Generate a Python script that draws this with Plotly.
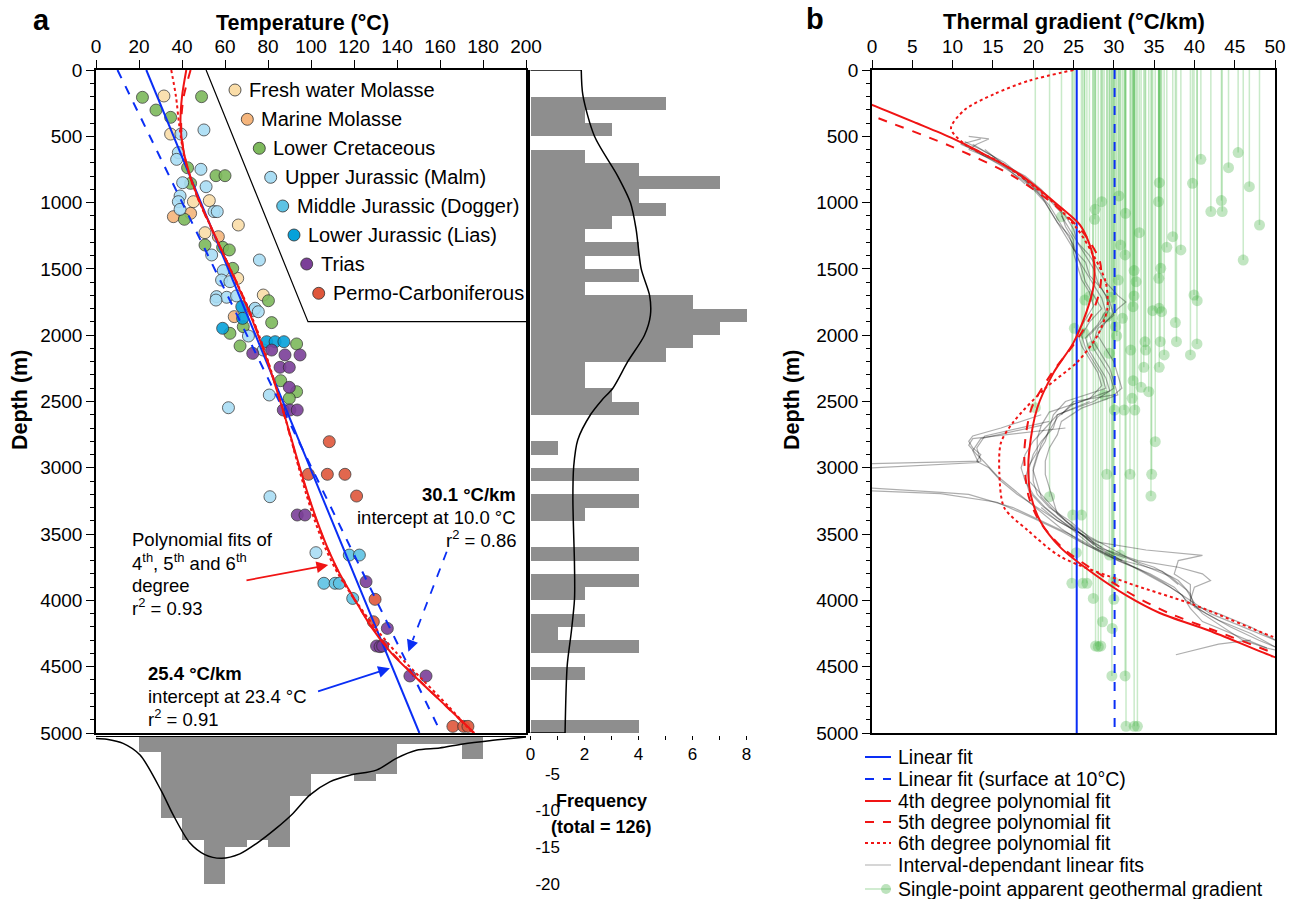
import plotly.graph_objects as go

W, H = 1301, 899
FONT = "Liberation Sans, Arial, Helvetica, sans-serif"
BLUE = "#0A2EF5"
RED = "#F01414"

# ---------------- Panel a : temperature vs depth, by formation ----------------
fw_T = [31.6, 34.7, 45.3, 52.7, 66.2, 50.7, 65.9, 77.8]
fw_D = [196, 483, 993, 985, 1169, 1227, 1571, 1697]
mm_T = [36.0, 44.0, 56.9, 64.3]
mm_D = [1106, 1081, 1257, 1860]
lc_T = [21.6, 49.1, 27.9, 34.7, 42.6, 55.8, 60.0, 44.0, 41.1, 50.7, 58.9, 62.0, 63.6, 80.2, 81.7,
        62.3, 68.5, 93.3, 67.0, 85.9, 93.3, 89.9]
lc_D = [206, 201, 302, 357, 737, 797, 797, 855, 1126, 1320, 1337, 1357, 1496, 1740, 1905,
        1986, 1936, 2066, 2081, 2343, 2426, 2476]
uj_T = [50.2, 39.5, 38.3, 37.5, 48.8, 40.3, 51.2, 39.1, 38.3, 39.1, 54.9, 56.4, 53.8, 76.0, 59.2,
        58.4, 62.3, 56.1, 60.8, 65.4, 55.8, 73.2, 74.0, 75.5, 70.9, 77.8, 80.6, 61.6, 80.9, 102.3]
uj_D = [452, 483, 623, 674, 749, 850, 880, 950, 993, 1051, 1068, 1068, 1395, 1433, 1513,
        1584, 1596, 1709, 1714, 1704, 1735, 1815, 1797, 1823, 2006, 2112, 2451, 2547, 3218, 3640]
mj_T = [117.8, 122.5, 106.0, 111.2, 113.2, 119.4]
mj_D = [3658, 3658, 3871, 3871, 3871, 3985]
lj_T = [67.8, 68.2, 58.9, 79.4, 83.3, 87.4]
lj_D = [1785, 1873, 1948, 2049, 2049, 2049]
tr_T = [72.9, 81.7, 87.9, 94.9, 85.6, 89.9, 89.9, 87.1, 90.2, 93.6, 93.6, 97.2, 125.6, 135.5,
        130.5, 132.1, 133.3, 146.0, 153.5]
tr_D = [2137, 2112, 2149, 2149, 2242, 2242, 2393, 2564, 2564, 2564, 3356, 3356, 3859, 4211,
        4344, 4349, 4344, 4570, 4570]
pc_T = [108.5, 98.8, 107.6, 115.8, 121.2, 129.8, 129.0, 166.0, 171.0, 173.0]
pc_D = [2803, 3049, 3049, 3049, 3213, 3992, 4161, 4950, 4950, 4950]

formations = ["Fresh water Molasse", "Marine Molasse", "Lower Cretaceous", "Upper Jurassic (Malm)",
              "Middle Jurassic (Dogger)", "Lower Jurassic (Lias)", "Trias", "Permo-Carboniferous"]
formation_colors = ["#FADDA8", "#F5B57C", "#7DB95C", "#A9DDF4", "#5EC3E4", "#06A1DA", "#7B3F98", "#DF573B"]
formation_T = [fw_T, mm_T, lc_T, uj_T, mj_T, lj_T, tr_T, pc_T]
formation_D = [fw_D, mm_D, lc_D, uj_D, mj_D, lj_D, tr_D, pc_D]

# linear fits (end points)
lin_T = [23.4, 150.4]
lin_D = [0, 5000]
lin10_T = [10.0, 160.5]
lin10_D = [0, 5000]

# polynomial fits
poly_D = [0, 200, 400, 600, 800, 1000, 1200, 1400, 1600, 1800, 2000, 2200, 2400, 2600, 2800, 3000,
          3200, 3400, 3600, 3800, 4000, 4200, 4400, 4600, 4800, 5000]
poly4_T = [42.0, 40.0, 39.3, 40.6, 43.8, 48.4, 54.0, 59.6, 65.2, 70.6, 75.4, 79.8, 83.8, 87.6, 91.2, 94.8,
           98.6, 102.8, 107.6, 113.4, 120.6, 128.0, 137.5, 150.0, 163.0, 176.0]
poly5_T = [44.0, 40.8, 39.6, 40.6, 43.6, 48.2, 53.8, 59.6, 65.4, 70.9, 75.7, 80.0, 83.9, 87.5, 91.0, 94.6,
           98.4, 102.6, 107.4, 113.2, 120.4, 128.4, 138.0, 150.2, 163.0, 175.6]
poly6_T = [35.0, 37.2, 38.6, 40.4, 43.6, 48.3, 53.9, 59.6, 65.4, 70.9, 75.8, 80.1, 84.0, 87.6, 91.0, 94.3,
           97.8, 101.8, 106.5, 112.6, 120.6, 129.6, 140.0, 152.0, 164.0, 175.2]

# histogram of depths (100 m bins) and its density curve
depth_bin_start = [0, 100, 200, 300, 400, 500, 600, 700, 800, 900, 1000, 1100, 1200, 1300, 1400, 1500,
                   1600, 1700, 1800, 1900, 2000, 2100, 2200, 2300, 2400, 2500, 2600, 2700, 2800, 2900,
                   3000, 3100, 3200, 3300, 3400, 3500, 3600, 3700, 3800, 3900, 4000, 4100, 4200, 4300,
                   4400, 4500, 4600, 4700, 4800, 4900]
depth_counts = [0, 0, 5, 2, 3, 0, 2, 4, 7, 4, 5, 3, 2, 4, 2, 4, 2, 6, 8, 7, 6, 5, 2, 2, 3, 4, 0, 0, 1, 0,
                4, 0, 4, 2, 0, 0, 4, 0, 4, 2, 0, 2, 1, 4, 0, 2, 0, 0, 0, 4]
depth_kde_D = [0, 190, 500, 800, 1000, 1200, 1500, 1700, 1850, 2000, 2200, 2400, 2490, 2600, 2790, 2990,
               3240, 3740, 3990, 4240, 4490, 5000]
depth_kde_v = [1.88, 1.94, 2.37, 3.23, 3.70, 3.91, 4.10, 4.41, 4.44, 4.22, 3.60, 3.05, 2.64, 2.22, 1.75,
               1.60, 1.57, 1.63, 1.63, 1.51, 1.36, 1.28]

# histogram of temperatures (10 degC bins) and its density curve
temp_bin_start = [0, 10, 20, 30, 40, 50, 60, 70, 80, 90, 100, 110, 120, 130, 140, 150, 160, 170, 180, 190]
temp_counts = [0, 0, 2, 11, 14, 20, 15, 14, 15, 8, 5, 5, 6, 5, 1, 1, 1, 3, 0, 0]
temp_kde_T = [0, 5, 12.6, 20.5, 30.5, 35.9, 43.6, 50.6, 58.4, 66.9, 74.6, 83.9, 91.6, 99.4, 108.7, 118,
              130.4, 139.7, 149, 159.8, 170.7, 183, 200]
temp_kde_v = [0.2, 0.3, 0.86, 2.45, 7.4, 10.6, 14.4, 16.0, 16.5, 15.9, 14.5, 12.4, 10.4, 7.9, 6.1, 5.2,
              4.5, 2.9, 1.8, 1.5, 0.95, 0.5, 0.0]

# ---------------- Panel b : thermal gradient vs depth ----------------
surface_T = 10.0
grad_lin = 25.4
grad_lin10 = 30.1

b4_D = [0, 100, 200, 263, 400, 510, 609, 789, 1036, 1168, 1300, 1431, 1530, 1628, 1826, 2056, 2286,
        2549, 2878, 3050, 3207, 3405, 3602, 3799, 3964, 4095, 4227, 4424, 4600]
b4_G = [-13, -7.5, -2.8, 0, 5.5, 9.8, 13.1, 18.4, 23.4, 25.8, 26.9, 27.5, 27.6, 27.5, 26.6, 25.0, 22.5,
        20.5, 19.5, 19.4, 19.7, 20.9, 23.4, 27.5, 31.6, 35.7, 41.8, 49.8, 58]
b5_D = [0, 200, 345, 576, 800, 1036, 1250, 1450, 1650, 1850, 2056, 2286, 2549, 2878, 3207, 3405, 3602,
        3799, 3964, 4095, 4227, 4400, 4600]
b5_G = [-16, -6, 0, 9.8, 17.5, 23.0, 26.5, 28.3, 28.3, 27.2, 25.2, 22.3, 19.8, 18.9, 19.4, 20.8, 23.6,
        28.2, 32.5, 36.8, 42.5, 50, 59]
b6_D = [0, 80, 180, 300, 440, 560, 700, 850, 1000, 1200, 1400, 1600, 1800, 2000, 2200, 2400, 2650, 2810,
        3040, 3300, 3470, 3670, 3865, 4030, 4276, 4400]
b6_G = [25, 19.5, 15.2, 11.5, 9.8, 11.5, 16, 19.5, 22.5, 25.5, 27.5, 29, 29.2, 28, 25.5, 21.5, 17.6, 16,
        15.8, 16.4, 19.3, 23.4, 31.6, 39.8, 49.8, 56]

# interval-dependant linear fits (a selection of the traced paths)
interval_fits = [
    ([540, 600, 700, 800, 900, 1000, 1100, 1200, 1300, 1400, 1500, 1600, 1700, 1800, 1900, 2000, 2100,
      2200, 2300, 2400, 2500, 2600, 2700, 2800, 2900, 3000, 3100, 3200, 3300, 3400, 3500, 3600, 3700,
      3800, 3900, 4000, 4100, 4200, 4300],
     [11.5, 13.5, 16.5, 18.5, 20, 21.5, 22.5, 23.5, 24.5, 25.5, 26, 26.5, 27.5, 28.5, 27, 26, 26.5,
      27.5, 28.5, 29, 24, 22.5, 22, 21.5, 20.5, 20, 20, 20.5, 22, 24.5, 26.5, 28, 31, 34, 37, 39.5, 42, 46, 50]),
    ([560, 650, 760, 850, 950, 1050, 1150, 1250, 1350, 1450, 1550, 1650, 1750, 1850, 1950, 2050, 2150,
      2250, 2350, 2450, 2550, 2650, 2750, 2850, 2950, 3050, 3150, 3250, 3350, 3450, 3550, 3650, 3750,
      3850, 3950, 4050, 4150, 4250, 4350],
     [12.5, 15, 17.5, 19.5, 21, 22, 23, 24.5, 25, 26.5, 27, 28.5, 29.5, 30, 28, 27.5, 28.5, 29.5, 30,
      30.5, 26, 23.5, 23, 22, 21.5, 21.5, 22, 22.5, 23, 25, 27, 30, 35, 38, 39.5, 40, 43, 47, 50]),
    ([2650, 2760, 2850, 2950, 2990, 3100, 3185, 3200, 3300, 3400, 3500, 3600, 3700],
     [22, 14, 13, 13.5, -15, -15, 8.6, 12, 17.5, 21, 24.5, 27.5, 31]),
    ([2680, 2780, 2870, 2960, 3030, 3150, 3195, 3260, 3380, 3480, 3580, 3680, 3780, 3880],
     [21, 13.5, 12.5, 13.2, -10, -10, 8.5, 15.5, 20, 23.5, 26.5, 30, 36, 38]),
    ([2700, 2780, 2830, 2900, 2960, 3060, 3160, 3260, 3360, 3460, 3560, 3660, 3760, 3860, 3960, 4060,
      4160, 4260, 4360],
     [24, 12.5, 12, 13, 14, 15.5, 17.5, 19.5, 21.5, 23.5, 26, 29, 33, 36, 38.5, 39.5, 41, 45, 49]),
    ([3300, 3400, 3500, 3560, 3620, 3660, 3700, 3800, 3880, 3950, 4030, 4100, 4200, 4330, 4410],
     [21, 23, 26, 28, 34, 41, 38, 37.5, 39.5, 39.5, 39.5, 43, 47, 51, 55]),
    ([520, 560, 600, 680, 780, 880, 980, 1080, 1180, 1280, 1380, 1480, 1580, 1680, 1780, 1880, 1980,
      2080, 2180, 2280, 2380, 2480, 2580, 2680, 2780, 2880, 2980, 3080, 3180, 3280, 3380, 3480, 3580],
     [13.5, 11, 12.5, 15, 18, 20, 22, 23.5, 24, 25, 25, 25.5, 26, 27, 27.5, 26.5, 25.5, 26, 27, 28,
      28.5, 27, 22, 21, 20.5, 20.5, 19.5, 19, 19.5, 21, 23, 25.5, 27.5]),
    ([1100, 1200, 1300, 1400, 1500, 1600, 1700, 1750, 1800, 1900, 2000, 2100, 2200, 2300, 2400, 2450,
      2500, 2600],
     [23.5, 24.5, 25.5, 27, 28, 29, 30.5, 31.5, 30.5, 29, 28, 29, 30, 30.5, 31, 30, 25, 23.5]),
    ([3500, 3600, 3700, 3750, 3800, 3850, 3900, 4000, 4100, 4200, 4300, 4360, 4400],
     [26, 28, 33, 38, 41, 42, 40, 39.5, 41, 43.5, 46, 49, 52]),
    ([4300, 4330, 4410], [47, 43, 37.7]),
    ([600, 700, 800, 900, 1000, 1100, 1200, 1300, 1400, 1500, 1600, 1700, 1800, 1900, 2000, 2100, 2200,
      2300, 2400, 2500, 2600, 2700, 2800, 2900, 3000, 3100, 3200, 3300, 3400, 3500, 3600],
     [14, 16, 19, 21, 22.5, 24, 25, 25.5, 26.5, 27.5, 28, 29, 29.5, 28.5, 27, 27.5, 28.5, 29.5, 30,
      27.5, 23, 22.5, 21, 20, 19.5, 19.5, 21, 22.5, 24, 26, 28.5]),
    ([550, 620, 720, 820, 920, 1020, 1120, 1220, 1320, 1420, 1520, 1620, 1720, 1820, 1920, 2020, 2120,
      2220, 2320, 2420, 2520, 2620, 2720, 2820, 2920, 3020, 3120, 3220, 3320, 3420, 3520, 3620, 3720,
      3820, 3920, 4020],
     [11, 13, 16, 18.5, 20.5, 22, 23, 24, 25, 25.5, 26.5, 27.5, 28.5, 29, 28, 26.5, 27, 28, 29, 29.5,
      25, 23, 22, 21, 20.5, 20, 20.5, 21, 22.5, 24.5, 27, 30, 33, 37, 39, 40]),
    ([2500, 2600, 2700, 2800, 2900, 3000, 3100, 3200, 3300, 3400, 3500, 3600, 3700, 3800, 3900, 4000,
      4100, 4200, 4300, 4400],
     [27, 23, 21.5, 20, 19, 18.5, 19, 20, 21.5, 23.5, 25.5, 27.5, 30.5, 34.5, 37.5, 39, 41.5, 44.5, 48, 52]),
    ([2600, 2700, 2760, 2800, 2850, 2900, 2950, 3000, 3100, 3200, 3300, 3400, 3500],
     [21, 16, 12.5, 12, 12.5, 13.5, 13, 14.5, 16, 18, 20.5, 23, 26]),
    ([500, 520, 560, 600, 650, 700, 780, 860], [12, 14.5, 13, 12, 14, 16, 17.5, 19]),
]


def px(x):
    return x / W


def py(y):
    return 1 - y / H


fig = go.Figure()

# ---- panel a scatter ----
for name, col, T, D in zip(formations, formation_colors, formation_T, formation_D):
    fig.add_trace(go.Scatter(x=T, y=D, mode="markers", name=name, showlegend=False,
                             marker=dict(size=12, color=col, opacity=0.9,
                                         line=dict(color="#2e2e2e", width=0.8)),
                             xaxis="x", yaxis="y"))

# ---- panel a fits ----
fig.add_trace(go.Scatter(x=lin10_T, y=lin10_D, mode="lines", showlegend=False,
                         line=dict(color=BLUE, width=2, dash="dash"), xaxis="x", yaxis="y"))
fig.add_trace(go.Scatter(x=lin_T, y=lin_D, mode="lines", showlegend=False,
                         line=dict(color=BLUE, width=2), xaxis="x", yaxis="y"))
fig.add_trace(go.Scatter(x=poly6_T, y=poly_D, mode="lines", showlegend=False,
                         line=dict(color=RED, width=2, dash="dot", shape="spline", smoothing=0.8),
                         xaxis="x", yaxis="y"))
fig.add_trace(go.Scatter(x=poly5_T, y=poly_D, mode="lines", showlegend=False,
                         line=dict(color=RED, width=2, dash="dash", shape="spline", smoothing=0.8),
                         xaxis="x", yaxis="y"))
fig.add_trace(go.Scatter(x=poly4_T, y=poly_D, mode="lines", showlegend=False,
                         line=dict(color=RED, width=2, shape="spline", smoothing=0.8),
                         xaxis="x", yaxis="y"))

# ---- depth histogram (right) ----
fig.add_trace(go.Bar(x=depth_counts, y=[s + 50 for s in depth_bin_start], width=100, orientation="h",
                     marker=dict(color="#8e8e8e", line=dict(width=0)), showlegend=False,
                     xaxis="x2", yaxis="y2"))
fig.add_trace(go.Scatter(x=depth_kde_v, y=depth_kde_D, mode="lines", showlegend=False,
                         line=dict(color="black", width=1.5, shape="spline", smoothing=0.8),
                         xaxis="x2", yaxis="y2"))
fig.add_trace(go.Scatter(x=[0, depth_kde_v[0]], y=[0, 0], mode="lines", showlegend=False,
                         line=dict(color="black", width=1.5), xaxis="x2", yaxis="y2"))
fig.add_trace(go.Scatter(x=[0, depth_kde_v[-1]], y=[5000, 5000], mode="lines", showlegend=False,
                         line=dict(color="black", width=1.5), xaxis="x2", yaxis="y2"))

# ---- temperature histogram (bottom, pointing down) ----
fig.add_trace(go.Bar(x=[s + 5 for s in temp_bin_start], y=[-c for c in temp_counts], width=10,
                     marker=dict(color="#8e8e8e", line=dict(width=0)), showlegend=False,
                     xaxis="x3", yaxis="y3"))
fig.add_trace(go.Scatter(x=temp_kde_T, y=[-v for v in temp_kde_v], mode="lines", showlegend=False,
                         line=dict(color="black", width=1.5, shape="spline", smoothing=0.8),
                         xaxis="x3", yaxis="y3"))

# ---- panel b: single-point apparent gradients ----
all_T = [t for T in formation_T for t in T]
all_D = [d for D in formation_D for d in D]
single_grad = [(t - surface_T) / (d / 1000.0) for t, d in zip(all_T, all_D)]
for g, d in zip(single_grad, all_D):
    fig.add_trace(go.Scatter(x=[g, g], y=[0, d], mode="lines", showlegend=False, hoverinfo="skip",
                             line=dict(color="rgba(60,180,60,0.28)", width=1.5),
                             xaxis="x4", yaxis="y4"))
fig.add_trace(go.Scatter(x=single_grad, y=all_D, mode="markers", showlegend=False,
                         marker=dict(size=11, color="rgba(70,180,70,0.33)", line=dict(width=0)),
                         xaxis="x4", yaxis="y4"))

# interval-dependant fits
for D, G in interval_fits:
    fig.add_trace(go.Scatter(x=G, y=D, mode="lines", showlegend=False,
                             line=dict(color="rgba(0,0,0,0.32)", width=1.2), xaxis="x4", yaxis="y4"))

# linear fits
fig.add_trace(go.Scatter(x=[grad_lin, grad_lin], y=[0, 5000], mode="lines", showlegend=False,
                         line=dict(color=BLUE, width=2), xaxis="x4", yaxis="y4"))
fig.add_trace(go.Scatter(x=[grad_lin10, grad_lin10], y=[0, 5000], mode="lines", showlegend=False,
                         line=dict(color=BLUE, width=2, dash="dash"), xaxis="x4", yaxis="y4"))
# polynomial fit gradients
fig.add_trace(go.Scatter(x=b6_G, y=b6_D, mode="lines", showlegend=False,
                         line=dict(color=RED, width=2, dash="dot", shape="spline", smoothing=0.8),
                         xaxis="x4", yaxis="y4"))
fig.add_trace(go.Scatter(x=b5_G, y=b5_D, mode="lines", showlegend=False,
                         line=dict(color=RED, width=2, dash="dash", shape="spline", smoothing=0.8),
                         xaxis="x4", yaxis="y4"))
fig.add_trace(go.Scatter(x=b4_G, y=b4_D, mode="lines", showlegend=False,
                         line=dict(color=RED, width=2, shape="spline", smoothing=0.8),
                         xaxis="x4", yaxis="y4"))

tickfont = dict(family=FONT, size=19, color="black")
histfont = dict(family=FONT, size=17, color="black")
base_axis = dict(showgrid=False, zeroline=False, linecolor="black", linewidth=1.5, ticks="outside",
                 tickcolor="black", tickwidth=1.2, ticklen=8, tickfont=tickfont, automargin=False)
minor_ticks = dict(dtick=100, ticks="outside", ticklen=4, tickcolor="black", tickwidth=1)

fig.update_layout(
    template="none",
    width=W, height=H, margin=dict(l=0, r=0, t=0, b=0, autoexpand=False),
    paper_bgcolor="white", plot_bgcolor="rgba(0,0,0,0)",
    font=dict(family=FONT, color="black"), bargap=0, showlegend=False,
    xaxis=dict(domain=[px(96), px(526)], range=[0, 200], side="top", anchor="y", dtick=20,
               showline=True, mirror=True, **base_axis),
    yaxis=dict(domain=[py(733), py(70)], range=[5000, 0], anchor="x", dtick=500,
               showline=True, mirror=True, minor=minor_ticks, **base_axis),
    xaxis2=dict(domain=[px(530), px(780)], range=[-0.0185, 9.24], anchor="free", position=py(735),
                side="bottom", tickvals=[0, 1, 2, 3, 4, 5, 6, 7, 8],
                ticktext=["0", "", "2", "", "4", "", "6", "", "8"], showgrid=False, zeroline=False,
                showline=False, ticks="outside", ticklen=4, tickcolor="black", tickwidth=1.2,
                tickfont=histfont, automargin=False),
    yaxis2=dict(domain=[py(733), py(70)], range=[5000, 0], anchor="x2", showline=True,
                linecolor="black", linewidth=1.5, ticks="", showticklabels=False, showgrid=False,
                zeroline=False, automargin=False),
    xaxis3=dict(domain=[px(96), px(526)], range=[0, 200], anchor="y3", side="top", showline=True,
                linecolor="black", linewidth=1.2, ticks="", showticklabels=False, showgrid=False,
                zeroline=False, automargin=False),
    yaxis3=dict(domain=[0, py(737)], range=[-22.04, 0], anchor="free", position=px(560), side="left",
                tickvals=[-20, -15, -10, -5], ticktext=["-20", "-15", "-10", "-5"],
                ticks="", showline=False, showgrid=False, zeroline=False, tickfont=histfont,
                automargin=False),
    xaxis4=dict(domain=[px(872), px(1275)], range=[0, 50], side="top", anchor="y4", dtick=5,
                showline=True, mirror=True, **base_axis),
    yaxis4=dict(domain=[py(733), py(70)], range=[5000, 0], anchor="x4", dtick=500,
                showline=True, mirror=True, minor=minor_ticks, **base_axis),
)

ann = []


def text(x, y, s, size=18.5, bold=False, xanchor="left", yanchor="middle", angle=0):
    if bold:
        s = "<b>" + s + "</b>"
    ann.append(dict(x=px(x), y=py(y), xref="paper", yref="paper", text=s, showarrow=False,
                    xanchor=xanchor, yanchor=yanchor, textangle=angle,
                    font=dict(family=FONT, size=size, color="black")))


# titles and panel letters
text(41, 20, "a", size=29, bold=True, xanchor="center")
text(815, 19, "b", size=29, bold=True, xanchor="center")
text(302, 23, "Temperature (°C)", size=21.5, bold=True, xanchor="center")
text(1074, 21, "Thermal gradient (°C/km)", size=22, bold=True, xanchor="center")
text(20, 400, "Depth (m)", size=21.5, bold=True, xanchor="center", angle=-90)
text(792, 400, "Depth (m)", size=21.5, bold=True, xanchor="center", angle=-90)
text(601, 801, "Frequency", size=18, bold=True, xanchor="center")
text(601, 827, "(total = 126)", size=18, bold=True, xanchor="center")

# panel a fit annotations
text(130, 539, "Polynomial fits of")
text(130, 562, "4<sup>th</sup>, 5<sup>th</sup> and 6<sup>th</sup>")
text(130, 585, "degree")
text(130, 607, "r<sup>2</sup> = 0.93")
text(518, 494, "30.1 °C/km", bold=True, xanchor="right")
text(518, 517, "intercept at 10.0 °C", xanchor="right")
text(518, 539, "r<sup>2</sup> = 0.86", xanchor="right")
text(146, 673, "25.4 °C/km", bold=True)
text(146, 696, "intercept at 23.4 °C")
text(146, 718, "r<sup>2</sup> = 0.91")

# arrows
ann.append(dict(x=108.0, y=3733, ax=69.3, ay=3851, xref="x", yref="y", axref="x", ayref="y", text="",
                showarrow=True, arrowhead=2, arrowsize=1.3, arrowwidth=1.8, arrowcolor=RED))
ann.append(dict(x=136.7, y=4512, ax=102.6, ay=4689, xref="x", yref="y", axref="x", ayref="y", text="",
                showarrow=True, arrowhead=2, arrowsize=1.3, arrowwidth=1.8, arrowcolor=BLUE))
ann.append(dict(x=145.3, y=4387, ax=147.3, ay=4300, xref="x", yref="y", axref="x", ayref="y", text="",
                showarrow=True, arrowhead=2, arrowsize=1.3, arrowwidth=1.8, arrowcolor=BLUE))

shapes = []
shapes.append(dict(type="line", xref="x", yref="y", x0=163.1, y0=3633, x1=147.3, y1=4300,
                   line=dict(color=BLUE, width=1.8, dash="dash")))
# legend frame in panel a
shapes.append(dict(type="path", xref="x", yref="y", path="M 51.2,0 L 98.6,1898 L 200,1898",
                   line=dict(color="black", width=1.2)))

# panel a legend
leg_pos = [(235, 90), (247.3, 119.3), (259.3, 148.3), (270.7, 177.3), (282.7, 206), (294, 235),
           (306.7, 264), (318.7, 293.3)]
for (cx, cy), name, col in zip(leg_pos, formations, formation_colors):
    shapes.append(dict(type="circle", xref="paper", yref="paper", x0=px(cx - 6), x1=px(cx + 6),
                       y0=py(cy + 6), y1=py(cy - 6), fillcolor=col,
                       line=dict(color="#2e2e2e", width=0.8)))
    text(cx + 12, cy, name, size=20)

# panel b legend
leg_b = [("Linear fit", BLUE, "solid", 2, 757), ("Linear fit (surface at 10°C)", BLUE, "dash", 2, 779),
         ("4th degree polynomial fit", RED, "solid", 2, 801), ("5th degree polynomial fit", RED, "dash", 2, 822),
         ("6th degree polynomial fit", RED, "dot", 2, 843),
         ("Interval-dependant linear fits", "#c8c8c8", "solid", 1.5, 865),
         ("Single-point apparent geothermal gradient", "rgba(120,200,120,0.45)", "solid", 1.5, 889)]
for name, col, dash, lw, yy in leg_b:
    shapes.append(dict(type="line", xref="paper", yref="paper", x0=px(865), x1=px(891), y0=py(yy),
                       y1=py(yy), line=dict(color=col, width=lw, dash=dash)))
    text(896, yy, name, size=19.5)
shapes.append(dict(type="circle", xref="paper", yref="paper", x0=px(881), x1=px(891), y0=py(894),
                   y1=py(884), fillcolor="rgba(90,185,90,0.4)", line=dict(width=0)))

fig.update_layout(annotations=ann, shapes=shapes)

fig.write_html("out.html", config={"displayModeBar": False},
               post_script="document.body.style.margin='0px';")
